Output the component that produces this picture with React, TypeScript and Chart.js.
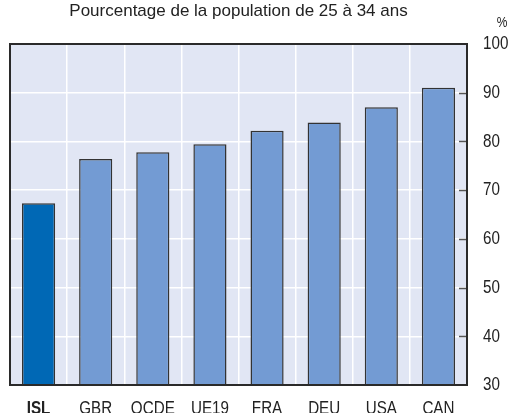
import React, { useEffect, useRef } from "react";
import { Chart, registerables } from "chart.js";

Chart.register(...registerables);

const categories = ["ISL", "GBR", "OCDE", "UE19", "FRA", "DEU", "USA", "CAN"];
const values = [67.3, 76.4, 77.8, 79.4, 82.2, 83.9, 87.0, 91.0];
const highlight = ["ISL"];
const titleText = "Pourcentage de la population de 25 à 34 ans";
const unitText = "%";
const yMin = 30;
const yMax = 100;
const yStep = 10;

const FONT = "'Liberation Sans', Arial, sans-serif";
const SQUEEZE = 0.8;

function drawText(ctx: CanvasRenderingContext2D, text: string, x: number, y: number, align: CanvasTextAlign, baseline: CanvasTextBaseline, font: string, squeeze: number) {
  ctx.save();
  ctx.translate(x, y);
  ctx.scale(squeeze, 1);
  ctx.font = font;
  ctx.textAlign = align;
  ctx.textBaseline = baseline;
  ctx.fillText(text, 0, 0);
  ctx.restore();
}

export default function App() {
  const ref = useRef<HTMLCanvasElement | null>(null);

  useEffect(() => {
    document.body.style.margin = "0";
    const canvas = ref.current;
    if (!canvas) return;

    const decor = {
      id: "decor",
      beforeDraw(chart: any) {
        const { ctx, chartArea } = chart;
        ctx.save();
        ctx.fillStyle = "#e1e6f4";
        ctx.fillRect(chartArea.left, chartArea.top, chartArea.right - chartArea.left, chartArea.bottom - chartArea.top);
        ctx.restore();
      },
      afterDraw(chart: any) {
        const { ctx, chartArea } = chart;
        const ys = chart.scales.y;
        const xs = chart.scales.x;
        ctx.save();
        // inner tick marks on right
        ctx.strokeStyle = "#555";
        ctx.lineWidth = 1.5;
        ys.ticks.forEach((t: any, i: number) => {
          if (t.value <= yMin || t.value >= yMax) return;
          const py = Math.round(ys.getPixelForTick(i)) + 0.5;
          ctx.beginPath();
          ctx.moveTo(chartArea.right - 8, py);
          ctx.lineTo(chartArea.right, py);
          ctx.stroke();
        });
        // frame
        ctx.strokeStyle = "#2a2a2a";
        ctx.lineWidth = 2;
        ctx.strokeRect(chartArea.left, chartArea.top, chartArea.right - chartArea.left, chartArea.bottom - chartArea.top);
        ctx.fillStyle = "#222";
        // y tick labels
        ys.ticks.forEach((t: any, i: number) => {
          drawText(ctx, String(t.value), chartArea.right + 16, ys.getPixelForTick(i), "left", "middle", `19px ${FONT}`, SQUEEZE);
        });
        // x tick labels
        xs.ticks.forEach((_t: any, i: number) => {
          const label = categories[i];
          const bold = highlight.includes(label) ? "bold " : "";
          drawText(ctx, label, xs.getPixelForTick(i), 414, "center", "alphabetic", `${bold}19px ${FONT}`, SQUEEZE);
        });
        // title
        drawText(ctx, titleText, (chartArea.left + chartArea.right) / 2, 11, "center", "middle", `17px ${FONT}`, 1);
        // unit
        drawText(ctx, unitText, 502, 23, "center", "middle", `15px ${FONT}`, SQUEEZE);
        ctx.restore();
      },
    };

    const chart = new Chart(canvas, {
      type: "bar",
      data: {
        labels: categories,
        datasets: [
          {
            data: values,
            backgroundColor: categories.map((c) => (highlight.includes(c) ? "#0068b5" : "#739bd3")),
            borderColor: "#333333",
            borderWidth: 1.5,
            borderSkipped: false,
            barPercentage: 0.58,
            categoryPercentage: 1,
          },
        ],
      },
      options: {
        responsive: false,
        animation: false,
        maintainAspectRatio: false,
        layout: { padding: { left: 10, top: 44, right: 0, bottom: 0 } },
        plugins: {
          legend: { display: false },
          tooltip: { enabled: false },
          title: { display: false },
        },
        scales: {
          x: {
            offset: true,
            grid: { display: true, offset: true, color: "#ffffff", lineWidth: 1.5, drawTicks: false },
            border: { display: false },
            ticks: { display: false, autoSkip: false, maxRotation: 0 },
            afterFit(scale: any) {
              scale.height = 28;
            },
          },
          y: {
            position: "right",
            min: yMin,
            max: yMax,
            grid: { color: "#ffffff", lineWidth: 1.5, drawTicks: false },
            border: { display: false },
            ticks: { display: false, stepSize: yStep },
            afterFit(scale: any) {
              scale.width = 45;
            },
          },
        },
      },
      plugins: [decor],
    });

    return () => chart.destroy();
  }, []);

  return <canvas ref={ref} width={512} height={413} style={{ display: "block" }} />;
}
